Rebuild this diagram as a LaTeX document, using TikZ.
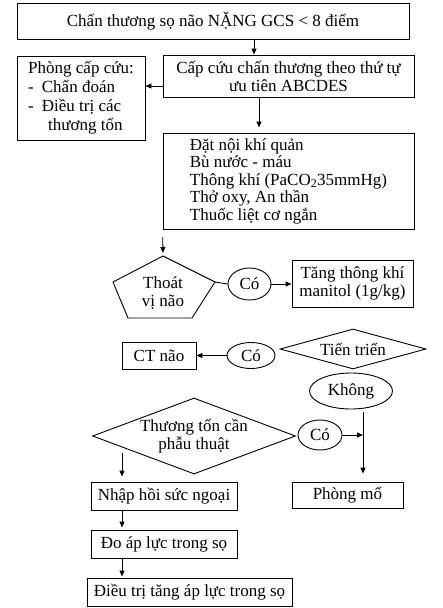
\documentclass[tikz,border=0pt]{standalone}
\usepackage{fontspec}
\setmainfont{Liberation Serif}
\usetikzlibrary{arrows.meta,shapes.geometric}
\tikzset{
  every node/.style={font=\fontsize{17}{18}\selectfont},
  ln/.style={line width=0.9pt},
  boxn/.style={ln,draw,rectangle,inner sep=0pt,align=center},
  ell/.style={ln,draw,ellipse,inner sep=0pt},
  dia/.style={ln,draw,diamond,inner sep=0pt,align=center},
  arr/.style={ln,-{Triangle[length=6pt,width=5pt]}}
}
\begin{document}
\begin{tikzpicture}[x=1pt,y=-1pt]
\useasboundingbox (0,0) rectangle (442,608);
% boxes
\node[boxn,minimum width=392pt,minimum height=36pt] (top) at (213,21) {Chấn thương sọ não NẶNG GCS < 8 điểm};
\node[boxn,minimum width=251pt,minimum height=42pt] (box2) at (288.5,76) {Cấp cứu chấn thương theo thứ tự\\ưu tiên ABCDES};
\node[boxn,minimum width=128pt,minimum height=84pt,align=left,font=\fontsize{17}{19}\selectfont] (left) at (81,98)
  {Phòng cấp cứu:\\-\hspace{8pt}Chẩn đoán\\-\hspace{8pt}Điều trị các\\\hspace{20pt}thương tổn};
\node[boxn,minimum width=251pt,minimum height=96pt,align=left,font=\fontsize{17}{17.5}\selectfont] (box3) at (288.5,181)
  {Đặt nội khí quản\\Bù nước - máu\\Thông khí (PaCO\textsubscript{2}35mmHg)\\Thở oxy, An thần\\Thuốc liệt cơ ngắn};
% pentagon
\coordinate (ptop) at (163,256);
\coordinate (pright) at (215,282);
\coordinate (pbr) at (192,318);
\coordinate (pbl) at (128,318);
\coordinate (pleft) at (113,282);
\draw[ln] (ptop) -- (pright) -- (pbr) -- (pbl) -- (pleft) -- cycle;
\node[align=center,inner sep=0pt] (pent) at (163,293) {Thoát\\vị não};
\node[ell,minimum width=43pt,minimum height=32pt] (co1) at (249.5,284) {Có};
\node[boxn,minimum width=121pt,minimum height=47pt] (manitol) at (352.5,283.5) {Tăng thông khí\\manitol (1g/kg)};
% progression
\node[dia,minimum width=146pt,minimum height=40pt,shape aspect=3.65] (tien) at (353,349) {Tiến triển};
\node[ell,minimum width=48pt,minimum height=26pt] (co2) at (251,355.5) {Có};
\node[boxn,minimum width=74pt,minimum height=27pt] (ct) at (159,355.5) {CT não};
\node[ell,minimum width=83pt,minimum height=36pt] (khong) at (351,391) {Không};
% surgery decision
\node[dia,minimum width=203pt,minimum height=76pt,shape aspect=2.67] (thuong) at (194,436) {Thương tổn cần\\phẫu thuật};
\node[ell,minimum width=44pt,minimum height=30pt] (co3) at (320,435) {Có};
\node[boxn,minimum width=111pt,minimum height=26pt] (phong) at (347.5,495) {Phòng mổ};
\node[boxn,minimum width=146pt,minimum height=28pt] (nhap) at (164,496) {Nhập hồi sức ngoại};
\node[boxn,minimum width=146pt,minimum height=28pt] (do) at (164,544) {Đo áp lực trong sọ};
\node[boxn,minimum width=205pt,minimum height=28pt] (dieu) at (189.5,592) {Điều trị tăng áp lực trong sọ};
% connectors
\coordinate (a1) at (254,0);
\draw[arr] (top.south -| a1) -- (box2.north -| a1);
\draw[arr] ([yshift=-10pt]box2.west) -- ([yshift=-10pt]box2.west -| left.east);
\coordinate (a3) at (259,0);
\draw[arr,shorten >=5pt] (box2.south -| a3) -- (box3.north -| a3);
\draw[arr,shorten <=8pt,shorten >=3pt] (box3.south west) -- (ptop);
\draw[ln] (pright) -- (co1.west);
\draw[arr] (co1.east) -- (co1.east -| manitol.west);
\draw[arr] (co2.west) -- (co2.west -| ct.east);
\coordinate (k) at (363,0);
\draw[arr,shorten <=3pt,shorten >=8pt] (khong.south -| k) -- (phong.north -| k);
\draw[arr] (co3.east) -- (co3.east -| k);
\coordinate (d1) at (122,453);
\draw[arr,shorten >=5pt] (d1) -- (nhap.north -| d1);
\draw[arr,shorten >=2pt] (nhap.south -| d1) -- (do.north -| d1);
\draw[arr,shorten >=1pt] (do.south -| d1) -- (dieu.north -| d1);
\end{tikzpicture}
\end{document}
